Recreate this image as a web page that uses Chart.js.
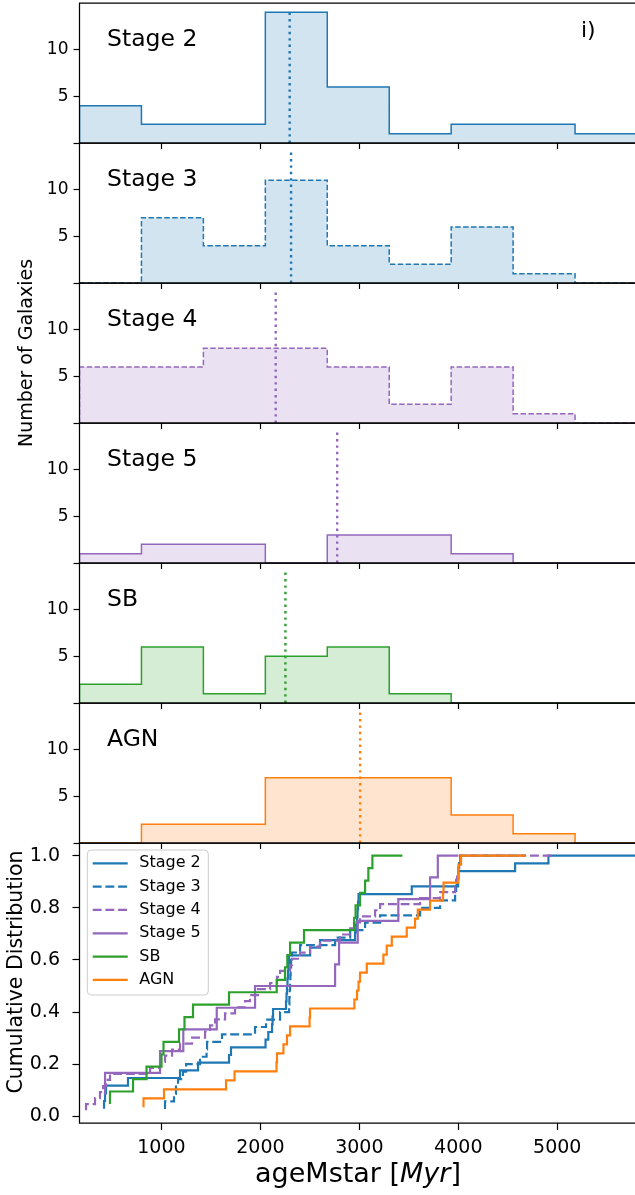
<!DOCTYPE html>
<html>
<head>
<meta charset="utf-8">
<script src="https://cdn.jsdelivr.net/npm/chart.js@4.4.1/dist/chart.umd.min.js"></script>
<style>
  html, body { margin: 0; padding: 0; background: #fff; }
  body { width: 635px; height: 1195px; overflow: hidden; position: relative; }
  canvas { position: absolute; left: 0; }
</style>
</head>
<body>
<script>
// ---- data -------------------------------------------------------------
const groupLabels = ['Stage 2', 'Stage 3', 'Stage 4', 'Stage 5', 'SB', 'AGN'];

// shared histogram bin edges (Myr) and axis range
const binEdges = [172, 798, 1424, 2050, 2676, 3302, 3928, 4554, 5180, 5806];
const xMin = 172;
const xMax = 5806;
const xTickValues = [1000, 2000, 3000, 4000, 5000];
const histTickValues = [0, 5, 10];
const cdfTickValues = [0, 0.2, 0.4, 0.6, 0.8, 1.0];

// galaxies per bin
const countsStage2 = [4, 2, 2, 14, 6, 1, 2, 2, 1];
const countsStage3 = [0, 7, 4, 11, 4, 2, 6, 1, 0];
const countsStage4 = [6, 6, 8, 8, 6, 2, 6, 1, 0];
const countsStage5 = [1, 2, 2, 0, 3, 3, 1, 0, 0];
const countsSB     = [2, 6, 1, 5, 6, 1, 0, 0, 0];
const countsAGN    = [0, 2, 2, 7, 7, 7, 3, 1, 0];

// median ageMstar of each group (Myr)
const medianAges = [2296, 2310, 2155, 2776, 2253, 3008];

// sorted ageMstar of each galaxy (Myr), used for the cumulative curves
const agesStage2 = [420, 430, 440, 662, 1188, 1370, 1683, 1703, 2052, 2080, 2118, 2123, 2128,
  2259, 2264, 2269, 2274, 2279, 2284, 2289, 2502, 2603, 2957, 2967, 2977, 2982, 2987, 2992,
  3530, 3998, 4001, 4574, 4911, 5806];
const agesStage3 = [1036, 1127, 1147, 1168, 1218, 1249, 1390, 1456, 1461, 1612, 1946, 2057,
  2199, 2290, 2293, 2296, 2300, 2303, 2306, 2310, 2320, 2401, 2755, 2907, 3058, 3210, 3614,
  3816, 3968, 3978, 3988, 3998, 4008, 4018, 4675];
const agesStage4 = [238, 329, 379, 410, 440, 480, 885, 986, 1036, 1107, 1188, 1309, 1441, 1491,
  1542, 1643, 1744, 1845, 1895, 1976, 2098, 2168, 2199, 2300, 2320, 2401, 2502, 2603, 2805,
  2907, 2957, 3007, 3159, 3210, 3614, 3816, 3968, 3978, 3988, 3998, 4008, 4018, 4978];
const agesStage5 = [430, 986, 1221, 1559, 1946, 2755, 2795, 2984, 3394, 3715, 3793, 4001];
const agesSB = [480, 713, 849, 1001, 1021, 1178, 1233, 1319, 1683, 2165, 2249, 2272, 2300, 2441,
  2947, 2962, 3007, 3058, 3091, 3132, 3435];
const agesAGN = [819, 1026, 1653, 1739, 2163, 2168, 2233, 2269, 2300, 2497, 2502, 2950, 2977,
  2992, 3007, 3075, 3243, 3277, 3328, 3479, 3563, 3591, 3715, 3846, 3851, 3998, 4001, 4028, 4675];

// ---- styling ----------------------------------------------------------
const FONT = 'DejaVu Sans';
const lineColors = ['#1f77b4', '#1f77b4', '#9467bd', '#9467bd', '#2ca02c', '#ff7f0e'];
const fillColors = ['rgba(31,119,180,0.2)', 'rgba(31,119,180,0.2)', 'rgba(148,103,189,0.2)',
  'rgba(148,103,189,0.2)', 'rgba(44,160,44,0.2)', 'rgba(255,127,14,0.2)'];
const histDashes = [[], [5.5, 2.4], [5.5, 2.4], [], [], []];
const cdfDashes = [[], [8.9, 3.8], [8.9, 3.8], [], [], []];

const allCounts = [countsStage2, countsStage3, countsStage4, countsStage5, countsSB, countsAGN];
const allAges = [agesStage2, agesStage3, agesStage4, agesStage5, agesSB, agesAGN];

// ---- layout (page pixels) ---------------------------------------------
const CANVAS_W = 640;
const PLOT_LEFT = 79.5;
const PAD_RIGHT = 3;
const FIRST_TOP = 3;
const HIST_H = 140;
const CDF_H = 280;
const EXTRA = 60;

// outline of a step histogram, closed down to zero at both ends
function stepOutline(edges, counts) {
  const pts = [{ x: edges[0], y: 0 }];
  counts.forEach((c, i) => pts.push({ x: edges[i], y: c }));
  pts.push({ x: edges[edges.length - 1], y: counts[counts.length - 1] });
  pts.push({ x: edges[edges.length - 1], y: 0 });
  return pts;
}

// empirical cumulative distribution of sorted ages
function cumulativePoints(ages) {
  return ages.map((a, i) => ({ x: a, y: (i + 1) / ages.length }));
}

// spines, free text and legend drawn above the datasets
const decor = {
  id: 'decor',
  afterDatasetsDraw(chart, args, opts) {
    const { ctx, chartArea: a } = chart;
    const off = opts.offsetTop || 0;
    ctx.save();
    ctx.strokeStyle = '#000';
    ctx.lineWidth = 1.25;
    ctx.beginPath();
    ctx.moveTo(a.left, a.top); ctx.lineTo(a.right, a.top);
    ctx.lineTo(a.right, a.bottom); ctx.lineTo(a.left, a.bottom);
    ctx.closePath();
    ctx.stroke();

    ctx.fillStyle = '#000';
    (opts.texts || []).forEach(t => {
      ctx.save();
      ctx.translate(t.x, t.y - off);
      if (t.rotate) ctx.rotate(t.rotate);
      ctx.textAlign = t.align || 'left';
      ctx.textBaseline = t.baseline || 'alphabetic';
      if (t.parts) {
        let total = 0;
        t.parts.forEach(p => { ctx.font = p.font; total += ctx.measureText(p.text).width; });
        let x = -total / 2;
        ctx.textAlign = 'left';
        t.parts.forEach(p => { ctx.font = p.font; ctx.fillText(p.text, x, 0); x += ctx.measureText(p.text).width; });
      } else {
        ctx.font = t.font;
        ctx.fillText(t.text, 0, 0);
      }
      ctx.restore();
    });

    if (opts.legend) {
      const L = opts.legend;
      const x0 = L.x, y0 = L.y - off, w = L.w, h = L.h, r = 4;
      ctx.beginPath();
      ctx.moveTo(x0 + r, y0);
      ctx.arcTo(x0 + w, y0, x0 + w, y0 + h, r);
      ctx.arcTo(x0 + w, y0 + h, x0, y0 + h, r);
      ctx.arcTo(x0, y0 + h, x0, y0, r);
      ctx.arcTo(x0, y0, x0 + w, y0, r);
      ctx.closePath();
      ctx.fillStyle = 'rgba(255,255,255,0.8)';
      ctx.fill();
      ctx.strokeStyle = '#cccccc';
      ctx.lineWidth = 1;
      ctx.stroke();
      ctx.font = L.font;
      ctx.textBaseline = 'middle';
      ctx.textAlign = 'left';
      chart.data.datasets.forEach((ds, i) => {
        const yy = L.firstRow - off + i * L.rowStep;
        ctx.beginPath();
        ctx.strokeStyle = ds.borderColor;
        ctx.lineWidth = ds.borderWidth;
        ctx.setLineDash(ds.borderDash || []);
        ctx.moveTo(L.handleX0, yy);
        ctx.lineTo(L.handleX1, yy);
        ctx.stroke();
        ctx.setLineDash([]);
        ctx.fillStyle = '#000';
        ctx.fillText(ds.label, L.textX, yy);
      });
    }
    ctx.restore();
  }
};

function xAxis(showLabels, bottomSpace, fontSize, tickLen, pad) {
  return {
    type: 'linear', min: xMin, max: xMax,
    afterBuildTicks: s => { s.ticks = xTickValues.map(v => ({ value: v })); },
    afterFit: s => { s.height = bottomSpace; },
    grid: { drawOnChartArea: false, drawTicks: true, tickLength: tickLen, tickColor: '#000', tickWidth: 1.2 },
    border: { display: false },
    ticks: {
      color: '#000', font: { family: FONT, size: fontSize }, padding: pad,
      maxRotation: 0, autoSkip: false,
      callback: v => showLabels ? String(v) : ''
    }
  };
}

function yAxis(min, max, values, fmt, fontSize, tickLen, pad) {
  return {
    type: 'linear', min: min, max: max,
    afterBuildTicks: s => { s.ticks = values.map(v => ({ value: v })); },
    afterFit: s => { s.width = PLOT_LEFT; },
    grid: { drawOnChartArea: false, drawTicks: true, tickLength: tickLen, tickColor: '#000', tickWidth: 1.2 },
    border: { display: false },
    ticks: { color: '#000', font: { family: FONT, size: fontSize }, padding: pad, autoSkip: false, callback: fmt }
  };
}

function addCanvas(top, height) {
  const c = document.createElement('canvas');
  c.width = CANVAS_W;
  c.height = height;
  c.style.top = top + 'px';
  c.style.width = CANVAS_W + 'px';
  c.style.height = height + 'px';
  document.body.appendChild(c);
  return c;
}

// ---- six histogram panels --------------------------------------------
groupLabels.forEach((name, k) => {
  const panelTop = FIRST_TOP + k * HIST_H;
  const canvasTop = panelTop - EXTRA;
  const canvas = addCanvas(canvasTop, HIST_H + 2 * EXTRA);

  const texts = [{ text: name, x: 107, y: panelTop + 43, font: '23.5px ' + FONT }];
  if (k === 0) texts.push({ text: 'i)', x: 581, y: panelTop + 34, font: '22px ' + FONT });
  if (k === 2) texts.push({ text: 'Number of Galaxies', x: 27, y: 353, font: '19px ' + FONT,
    align: 'center', baseline: 'middle', rotate: -Math.PI / 2 });

  new Chart(canvas, {
    type: 'line',
    data: {
      datasets: [
        {
          data: [{ x: medianAges[k], y: 0 }, { x: medianAges[k], y: 14.4 }],
          borderColor: lineColors[k], borderWidth: 2.4, borderDash: [2.4, 4],
          pointRadius: 0, fill: false, order: 0
        },
        {
          data: stepOutline(binEdges, allCounts[k]),
          stepped: true,
          borderColor: lineColors[k], backgroundColor: fillColors[k],
          borderWidth: 1.5, borderDash: histDashes[k], borderJoinStyle: 'miter',
          pointRadius: 0, fill: 'origin', order: 1
        }
      ]
    },
    options: {
      responsive: false, animation: false, devicePixelRatio: 1,
      layout: { padding: { top: EXTRA, right: PAD_RIGHT, left: 0, bottom: 0 } },
      scales: {
        x: xAxis(false, EXTRA, 17, 6, 5),
        y: yAxis(0, 15, histTickValues, v => (v === 0 ? '' : String(v)), 17, 6, 5)
      },
      plugins: {
        legend: { display: false }, tooltip: { enabled: false },
        decor: { offsetTop: canvasTop, texts: texts }
      },
      events: []
    },
    plugins: [decor]
  });
});

// ---- cumulative distribution panel -----------------------------------
(function () {
  const panelTop = FIRST_TOP + 6 * HIST_H;
  const canvasTop = panelTop - EXTRA;
  const height = 1195 - canvasTop;
  const canvas = addCanvas(canvasTop, height);
  const bottomSpace = height - EXTRA - CDF_H;

  const datasets = groupLabels.map((name, k) => ({
    label: name,
    data: cumulativePoints(allAges[k]),
    stepped: 'after',
    borderColor: lineColors[k], borderWidth: 2.2, borderDash: cdfDashes[k],
    borderJoinStyle: 'miter', pointRadius: 0, fill: false,
    order: groupLabels.length - k
  }));

  new Chart(canvas, {
    type: 'line',
    data: { datasets: datasets },
    options: {
      responsive: false, animation: false, devicePixelRatio: 1,
      layout: { padding: { top: EXTRA, right: PAD_RIGHT, left: 0, bottom: 0 } },
      scales: {
        x: xAxis(true, bottomSpace, 19, 7, 7),
        y: yAxis(-0.0256, 1.0488, cdfTickValues, v => v.toFixed(1), 19, 7, 12.5)
      },
      plugins: {
        legend: { display: false }, tooltip: { enabled: false },
        decor: {
          offsetTop: canvasTop,
          texts: [
            { text: 'Cumulative Distribution', x: 17, y: 972, font: '20.5px ' + FONT,
              align: 'center', baseline: 'middle', rotate: -Math.PI / 2 },
            { x: 358, y: 1182, parts: [
              { text: 'ageMstar [', font: '27px ' + FONT },
              { text: 'Myr', font: 'italic 27px ' + FONT },
              { text: ']', font: '27px ' + FONT }
            ] }
          ],
          legend: {
            x: 87.3, y: 850, w: 121, h: 145, firstRow: 863.3, rowStep: 23.33,
            handleX0: 92.7, handleX1: 127.7, textX: 139.3, font: '16px ' + FONT
          }
        }
      },
      events: []
    },
    plugins: [decor]
  });
})();
</script>
</body>
</html>
